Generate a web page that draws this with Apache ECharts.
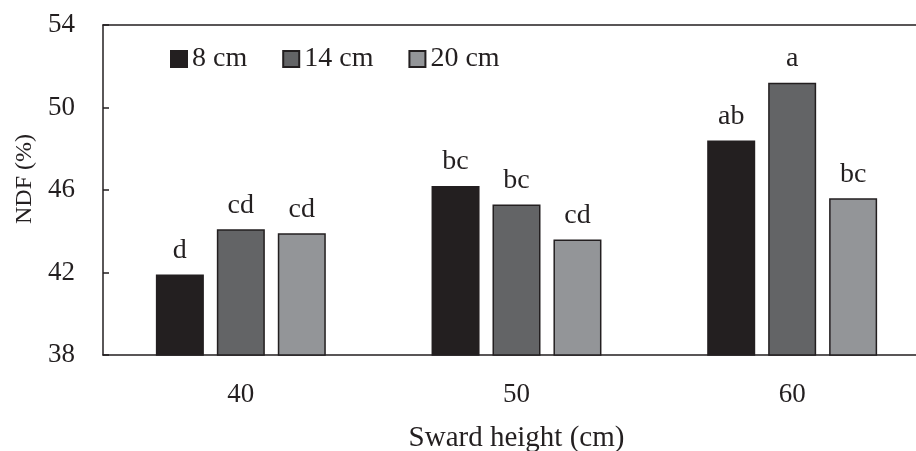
<!DOCTYPE html>
<html><head><meta charset="utf-8">
<script src="https://cdn.jsdelivr.net/npm/echarts@6/dist/echarts.min.js"></script>
<style>html,body{margin:0;padding:0;background:#fff}#c{width:916px;height:451px}</style>
</head><body><div id="c"></div>
<script>
const categories = ['40', '50', '60'];
const seriesNames = ['8 cm', '14 cm', '20 cm'];
const values8 = [41.9, 46.2, 48.4];
const values14 = [44.1, 45.3, 51.2];
const values20 = [43.9, 43.6, 45.6];
const letters8 = ['d', 'bc', 'ab'];
const letters14 = ['cd', 'bc', 'a'];
const letters20 = ['cd', 'cd', 'bc'];
const yTicks = [38, 42, 46, 50, 54];

const FONT = '"Liberation Serif", "DejaVu Serif", serif';
const INK = '#231f20';
const colors = ['#231f20', '#636466', '#939598'];
const valueSets = [values8, values14, values20];
const letterSets = [letters8, letters14, letters20];

const chart = echarts.init(document.getElementById('c'));
chart.setOption({
  animation: false,
  textStyle: { fontFamily: FONT, color: INK },
  grid: { left: 103, width: 827, top: 25, bottom: 96, outerBoundsMode: 'none', containLabel: false },
  legend: {
    top: 45, left: 170, padding: 0,
    icon: 'rect',
    itemWidth: 16, itemHeight: 16, itemGap: 35,
    textStyle: { fontFamily: FONT, fontSize: 28, color: INK },
    data: seriesNames
  },
  xAxis: [{
    type: 'category', data: categories,
    axisLine: { lineStyle: { color: INK, width: 1.5 } },
    axisTick: { show: false },
    axisLabel: { fontFamily: FONT, fontSize: 27, color: INK, margin: 26 },
    name: 'Sward height (cm)', nameLocation: 'middle', nameGap: 69,
    nameTextStyle: { fontFamily: FONT, fontSize: 29, color: INK }
  }, {
    type: 'category', data: categories, position: 'top',
    axisLine: { show: true, lineStyle: { color: INK, width: 1.5 } },
    axisTick: { show: false }, axisLabel: { show: false }
  }],
  yAxis: {
    type: 'value', min: yTicks[0], max: yTicks[yTicks.length - 1], interval: 4,
    axisLine: { show: true, lineStyle: { color: INK, width: 1.5 } },
    axisTick: { show: true, inside: true, length: 6, lineStyle: { color: INK, width: 1.5 } },
    splitLine: { show: false },
    axisLabel: { fontFamily: FONT, fontSize: 27, color: INK, margin: 28 },
    name: 'NDF (%)', nameLocation: 'middle', nameGap: 64, nameRotate: 90,
    nameTextStyle: { fontFamily: FONT, fontSize: 24, color: INK, padding: [0, 0, 0, 22] }
  },
  series: seriesNames.map((n, i) => ({
    name: n, type: 'bar',
    barWidth: 48, barGap: '27%',
    data: valueSets[i],
    itemStyle: { color: colors[i], borderColor: INK, borderWidth: 1.5 },
    label: {
      show: true, position: 'top', distance: 10,
      fontFamily: FONT, fontSize: 28, color: INK,
      formatter: p => letterSets[i][p.dataIndex]
    }
  }))
});
</script></body></html>
